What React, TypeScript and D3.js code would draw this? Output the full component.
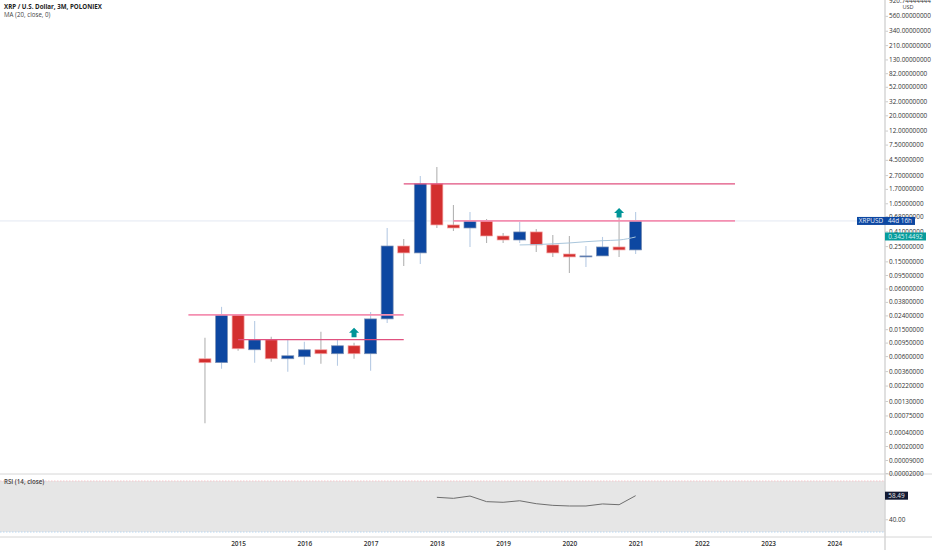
import React, { useEffect, useRef } from 'react';
import * as d3 from 'd3';

const quarters = [
  '2014Q3', '2014Q4', '2015Q1', '2015Q2', '2015Q3', '2015Q4', '2016Q1', '2016Q2', '2016Q3', '2016Q4',
  '2017Q1', '2017Q2', '2017Q3', '2017Q4', '2018Q1', '2018Q2', '2018Q3', '2018Q4', '2019Q1', '2019Q2',
  '2019Q3', '2019Q4', '2020Q1', '2020Q2', '2020Q3', '2020Q4', '2021Q1',
];
const futureQuarters = [
  '2021Q2', '2021Q3', '2021Q4', '2022Q1', '2022Q2', '2022Q3', '2022Q4',
  '2023Q1', '2023Q2', '2023Q3', '2023Q4', '2024Q1',
];
const yearTicks = ['2015Q1', '2016Q1', '2017Q1', '2018Q1', '2019Q1', '2020Q1', '2021Q1', '2022Q1', '2023Q1', '2024Q1'];

const opens = [
  0.00548, 0.0048, 0.0244, 0.00744, 0.01045, 0.00548, 0.00587, 0.00744, 0.0065, 0.00853,
  0.0065, 0.0213, 0.251, 0.199, 2.01, 0.508, 0.459, 0.581, 0.351, 0.307,
  0.402, 0.26, 0.192, 0.174, 0.18, 0.243, 0.22,
];
const closes = [
  0.00479, 0.0244, 0.0077, 0.01045, 0.00548, 0.00607, 0.00744, 0.0065, 0.00853, 0.0065,
  0.0213, 0.251, 0.199, 2.01, 0.508, 0.459, 0.581, 0.351, 0.307, 0.402,
  0.26, 0.199, 0.174, 0.18, 0.243, 0.22, 0.581,
];
const highs = [
  0.0112, 0.0321, 0.0244, 0.0199, 0.0116, 0.01045, 0.00977, 0.0137, 0.01045, 0.00944,
  0.027, 0.459, 0.318, 2.62, 3.55, 0.993, 0.785, 0.62, 0.388, 0.561,
  0.444, 0.363, 0.351, 0.251, 0.34, 0.839, 0.785,
];
const lows = [
  0.00056, 0.0039, 0.00719, 0.00479, 0.00495, 0.00352, 0.00447, 0.00462, 0.00432, 0.00548,
  0.00365, 0.0186, 0.128, 0.137, 0.459, 0.415, 0.243, 0.278, 0.278, 0.278,
  0.206, 0.174, 0.102, 0.124, 0.18, 0.174, 0.192,
];

const maQuarters = ['2019Q2', '2019Q3', '2019Q4', '2020Q1', '2020Q2', '2020Q3', '2020Q4', '2021Q1'];
const maValues = [0.26, 0.263, 0.27, 0.278, 0.29, 0.3, 0.307, 0.34];

const rsiQuarters = [
  '2018Q1', '2018Q2', '2018Q3', '2018Q4', '2019Q1', '2019Q2', '2019Q3',
  '2019Q4', '2020Q1', '2020Q2', '2020Q3', '2020Q4', '2021Q1',
];
const rsiValues = [57.2, 56.4, 58.2, 53.8, 53.3, 54.5, 52.2, 50.9, 50.4, 50.4, 52, 51.4, 58.49];

const priceTicks = [
  560, 340, 210, 130, 82, 52, 32, 20, 12, 7.5, 4.5, 2.7, 1.7, 1.05, 0.68, 0.41, 0.25, 0.15, 0.095,
  0.06, 0.038, 0.024, 0.015, 0.0095, 0.006, 0.0036, 0.0022, 0.0013, 0.00075, 0.0004, 0.0002, 0.00009, 0.00002,
];

// horizontal levels drawn on the chart: start quarter, end quarter, price
const levelStarts = ['2014Q2', '2015Q1', '2017Q3', '2018Q2'];
const levelEnds = ['2017Q3', '2017Q3', '2022Q3', '2022Q3'];
const levelPrices = [0.0244, 0.0105, 2.01, 0.581];
const arrowQuarters = ['2016Q4', '2020Q4'];
const arrowPrices = [0.0157, 0.9];

const FONT = '"Open Sans", sans-serif';
const AXIS_SIZE = '6.4px';

const App: React.FC = () => {
  const svgRef = useRef<SVGSVGElement>(null);

  useEffect(() => {
    if (!svgRef.current) return;
    const svg = d3.select(svgRef.current);
    svg.selectAll('*').remove();

    const axisX = 885;
    const allQuarters = ['2014Q2', ...quarters, ...futureQuarters];
    const x = d3.scalePoint<string>().domain(allQuarters).range([188.4, 834.4]);
    // price axis is log, but TradingView's spacing tightens near the bottom
    const y = d3
      .scaleLog()
      .domain([920.74, 0.095, 0.0013, 0.0004, 0.0002, 0.00009, 0.00002])
      .range([1, 275, 401, 432, 446, 460, 473]);
    const rsiY = d3.scaleLinear().domain([70, 30]).range([481, 532]);

    // rsi background
    svg.append('rect').attr('x', 0).attr('y', rsiY(70)).attr('width', axisX).attr('height', rsiY(30) - rsiY(70)).attr('fill', '#e6e6e6');
    [
      { v: 70, c: '#f5c6cb' },
      { v: 30, c: '#b9d7f2' },
    ].forEach((d) => {
      svg.append('line').attr('x1', 0).attr('x2', axisX).attr('y1', rsiY(d.v)).attr('y2', rsiY(d.v))
        .attr('stroke', d.c).attr('stroke-width', 1).attr('stroke-dasharray', '1.5,1.5');
    });

    // current price line
    svg.append('line').attr('x1', 0).attr('x2', axisX).attr('y1', y(0.581)).attr('y2', y(0.581))
      .attr('stroke', '#e3e8f2').attr('stroke-width', 1);

    // wicks
    svg.selectAll('.wick').data(quarters).enter().append('line')
      .attr('class', 'wick')
      .attr('x1', (d) => x(d)!)
      .attr('x2', (d) => x(d)!)
      .attr('y1', (_, i) => y(highs[i]))
      .attr('y2', (_, i) => y(lows[i]))
      .attr('stroke', (_, i) => (closes[i] >= opens[i] ? '#b7cbe4' : '#b3b3b3'))
      .attr('stroke-width', 1.1);

    // bodies
    const bodyW = 12;
    svg.selectAll('.body').data(quarters).enter().append('rect')
      .attr('class', 'body')
      .attr('x', (d) => x(d)! - bodyW / 2)
      .attr('y', (_, i) => y(Math.max(opens[i], closes[i])))
      .attr('width', bodyW)
      .attr('height', (_, i) => Math.max(1, y(Math.min(opens[i], closes[i])) - y(Math.max(opens[i], closes[i]))))
      .attr('fill', (_, i) => (closes[i] >= opens[i] ? '#0d47a1' : '#d32f2f'))
      .attr('stroke', (_, i) => (closes[i] >= opens[i] ? '#7f93b5' : '#f4a6a6'))
      .attr('stroke-width', 0.7);

    // levels
    levelPrices.forEach((p, i) => {
      svg.append('line')
        .attr('x1', x(levelStarts[i])!)
        .attr('x2', x(levelEnds[i])!)
        .attr('y1', y(p))
        .attr('y2', y(p))
        .attr('stroke', i === 0 || i === 3 ? '#f48fb1' : '#e0517f')
        .attr('stroke-width', i === 0 || i === 3 ? 1.8 : 1.1);
    });

    // moving average
    const maLine = d3.line<number>()
      .x((_, i) => x(maQuarters[i])!)
      .y((d) => y(d))
      .curve(d3.curveMonotoneX);
    svg.append('path').attr('d', maLine(maValues)).attr('fill', 'none').attr('stroke', '#a9c6dc').attr('stroke-width', 1);

    // arrows
    const arrowPath = 'M0,0 L5,5 L2.5,5 L2.5,9.5 L-2.5,9.5 L-2.5,5 L-5,5 Z';
    arrowPrices.forEach((p, i) => {
      svg.append('path').attr('d', arrowPath)
        .attr('transform', `translate(${x(arrowQuarters[i])},${y(p)})`)
        .attr('fill', '#009598');
    });

    // rsi line
    const rsiLine = d3.line<number>()
      .x((_, i) => x(rsiQuarters[i])!)
      .y((d) => rsiY(d));
    svg.append('path').attr('d', rsiLine(rsiValues)).attr('fill', 'none').attr('stroke', '#6e6e6e').attr('stroke-width', 1);

    // pane borders
    svg.append('line').attr('x1', 0).attr('x2', 932).attr('y1', 474).attr('y2', 474).attr('stroke', '#d6d6d6').attr('stroke-width', 1);
    svg.append('line').attr('x1', 0).attr('x2', 932).attr('y1', 537).attr('y2', 537).attr('stroke', '#d6d6d6').attr('stroke-width', 1);

    // price axis
    const priceAxis = svg.append('g')
      .attr('transform', `translate(${axisX},0)`)
      .call(d3.axisRight(y).tickValues(priceTicks).tickSize(3).tickPadding(1).tickFormat((d) => (+d).toFixed(8)));
    priceAxis.select('.domain').remove();
    priceAxis.selectAll('line').attr('stroke', '#cccccc');
    priceAxis.selectAll('text').attr('fill', '#333').style('font-family', FONT).style('font-size', AXIS_SIZE);

    svg.append('text').attr('x', 889).attr('y', 3).attr('fill', '#333')
      .style('font-family', FONT).style('font-size', AXIS_SIZE).text('920.74444444');
    svg.append('rect').attr('x', 901).attr('y', 3.5).attr('width', 14).attr('height', 7).attr('fill', '#fff');
    svg.append('text').attr('x', 908).attr('y', 9).attr('text-anchor', 'middle').attr('fill', '#444')
      .style('font-family', FONT).style('font-size', '5.6px').text('USD');

    // rsi axis
    const rsiAxis = svg.append('g')
      .attr('transform', `translate(${axisX},0)`)
      .call(d3.axisRight(rsiY).tickValues([40]).tickSize(3).tickPadding(1).tickFormat((d) => (+d).toFixed(2)));
    rsiAxis.select('.domain').remove();
    rsiAxis.selectAll('line').attr('stroke', '#cccccc');
    rsiAxis.selectAll('text').attr('fill', '#333').style('font-family', FONT).style('font-size', AXIS_SIZE);

    svg.append('line').attr('x1', axisX).attr('x2', axisX).attr('y1', 0).attr('y2', 550).attr('stroke', '#d6d6d6').attr('stroke-width', 1.5);

    // price tags
    const tag = (tx: number, w: number, cy: number, fill: string, label: string, color: string) => {
      svg.append('rect').attr('x', tx).attr('y', cy - 4).attr('width', w).attr('height', 8).attr('fill', fill);
      svg.append('text').attr('x', tx + w / 2).attr('y', cy + 2.2).attr('text-anchor', 'middle').attr('fill', color)
        .style('font-family', FONT).style('font-size', AXIS_SIZE).text(label);
    };
    tag(857, 28, y(0.581), '#0d47a1', 'XRPUSD', '#e8eefc');
    tag(885, 30, y(0.581), '#0d47a1', '44d 16h', '#e8eefc');
    tag(885, 41, y(0.34514492), '#089c9c', '0.34514492', '#d9f2f2');
    tag(885, 23, rsiY(58.49), '#131a33', '58.49', '#e6e6e6');

    // time axis
    const timeAxis = svg.append('g')
      .attr('transform', 'translate(0,537)')
      .call(d3.axisBottom(x).tickValues(yearTicks).tickSize(0).tickPadding(4).tickFormat((d) => String(d).slice(0, 4)));
    timeAxis.select('.domain').remove();
    timeAxis.selectAll('text').attr('fill', '#333').style('font-family', FONT).style('font-size', '6.5px').style('font-weight', '600');

    // legends
    const legend = (ly: number, label: string, weight: string) => {
      svg.append('text').attr('x', 4).attr('y', ly).attr('fill', weight === '700' ? '#222' : '#444')
        .style('font-family', FONT).style('font-size', '6.2px').style('font-weight', weight).text(label);
    };
    legend(9.2, 'XRP / U.S. Dollar, 3M, POLONIEX', '700');
    legend(17.2, 'MA (20, close, 0)', '400');
    legend(484.2, 'RSI (14, close)', '600');
  }, []);

  return <svg ref={svgRef} width={932} height={550} style={{ position: 'absolute', left: 0, top: 0, background: '#fff' }}></svg>;
};

export default App;
